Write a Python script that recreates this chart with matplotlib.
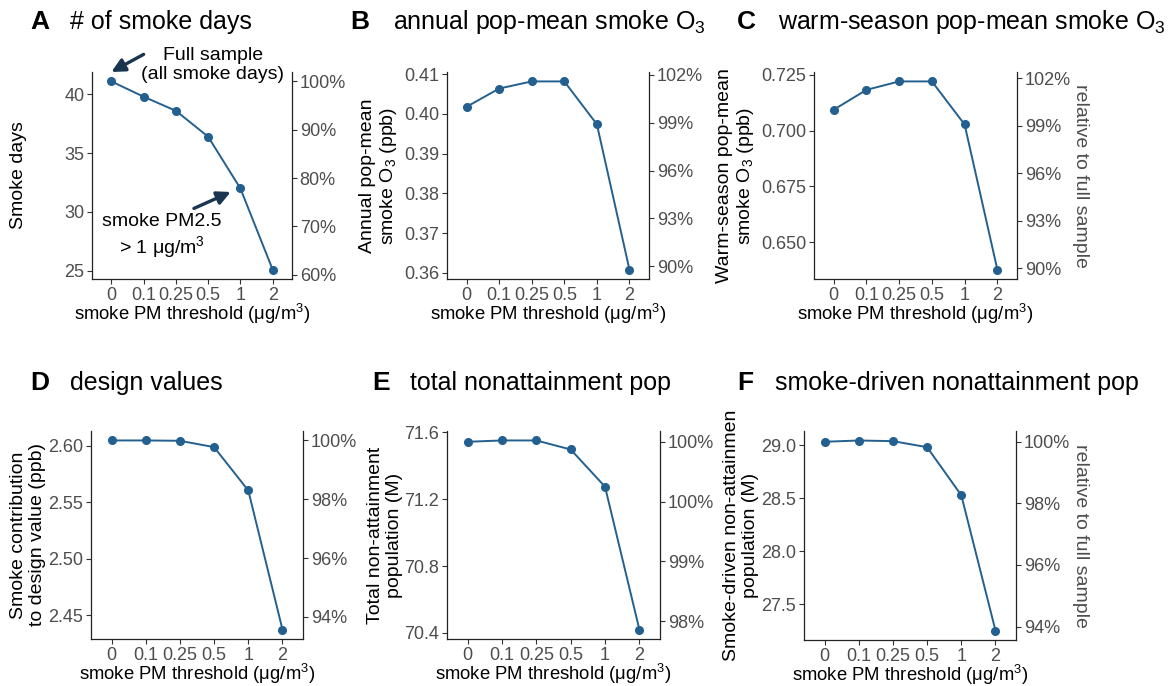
import numpy as np
import matplotlib
matplotlib.use("Agg")
import matplotlib.pyplot as plt

plt.rcParams['font.family'] = ['Liberation Sans', 'DejaVu Sans']
plt.rcParams['mathtext.fontset'] = 'custom'
plt.rcParams['mathtext.rm'] = 'Liberation Sans'
plt.rcParams['mathtext.it'] = 'Liberation Sans:italic'

# thresholds (discrete x)
thresholds = ["0", "0.1", "0.25", "0.5", "1", "2"]

# panel values
smoke_days = [41.1, 39.8, 38.6, 36.4, 32.0, 25.1]
annual_o3 = [0.4018, 0.4064, 0.4082, 0.4082, 0.3974, 0.3608]
warm_o3 = [0.7093, 0.7182, 0.7220, 0.7220, 0.7027, 0.6377]
design_vals = [2.6047, 2.6047, 2.6044, 2.5988, 2.5604, 2.4373]
total_pop = [71.544, 71.552, 71.552, 71.498, 71.275, 70.42]
smoke_pop = [29.032, 29.044, 29.038, 28.981, 28.528, 27.253]

W, H = 1168, 686
LINE = "#23608F"
ARROW = "#1A3550"
GREY = "#4D4D4D"

fig = plt.figure(figsize=(W / 100, H / 100), dpi=100)


def px_axes(x0, x1, y0, y1):
    return fig.add_axes([x0 / W, 1 - y1 / H, (x1 - x0) / W, (y1 - y0) / H])


def panel(box, vals, lticks, lfmt, rticks, letter, title, title_x, title_y, ylab, ylab_x, rlab=None):
    ax = px_axes(*box)
    x = np.arange(len(thresholds))
    ax.plot(x, vals, color=LINE, lw=1.4, marker='o', ms=5.5, clip_on=False, zorder=3)
    lo, hi = min(vals), max(vals)
    pad = (hi - lo) * 0.05
    ax.set_ylim(lo - pad, hi + pad)
    ax.set_xlim(-0.6, len(thresholds) - 0.4)
    ax.set_xticks(x)
    ax.set_xticklabels(thresholds)
    ax.set_yticks(lticks)
    ax.set_yticklabels([lfmt.format(t) for t in lticks])
    for s in ['top', 'right']:
        ax.spines[s].set_visible(False)
    for s in ['left', 'bottom']:
        ax.spines[s].set_color('#222222')
        ax.spines[s].set_linewidth(0.9)
    ax.tick_params(colors='#333333', labelcolor=GREY, labelsize=13, length=3.5, width=0.8, pad=2)
    ax.set_xlabel("smoke PM threshold (μg/m$^3$)", fontsize=13.3, labelpad=-1)

    ax2 = ax.twinx()
    base = vals[0]
    ax2.set_ylim((lo - pad) / base * 100, (hi + pad) / base * 100)
    ax2.set_yticks(rticks)
    ax2.set_yticklabels([f"{round(t)}%" for t in rticks])
    for s in ['top', 'left', 'bottom']:
        ax2.spines[s].set_visible(False)
    ax2.spines['right'].set_color('#222222')
    ax2.spines['right'].set_linewidth(0.9)
    ax2.tick_params(colors='#333333', labelcolor=GREY, labelsize=13, length=3.5, width=0.8, pad=2)

    fig.text(title_x[0] / W, 1 - title_y / H, letter, fontsize=19, fontweight='bold',
             va='center', ha='left')
    fig.text(title_x[1] / W, 1 - title_y / H, title, fontsize=18, va='center', ha='left')
    yc = (box[2] + box[3]) / 2
    fig.text(ylab_x / W, 1 - yc / H, ylab, fontsize=14, rotation=90, ha='center',
             va='center', multialignment='center', linespacing=1.1)
    if rlab:
        fig.text(1080 / W, 1 - yc / H, rlab, fontsize=14, rotation=-90, ha='center',
                 va='center', color=GREY)
    return ax, ax2


axA, _ = panel((92, 292, 72, 279), smoke_days, [25, 30, 35, 40], "{:.0f}", [60, 70, 80, 90, 100],
               "A", "# of smoke days", (30, 70), 22, "Smoke days", 19)
axB, _ = panel((447, 649, 72, 279), annual_o3, [0.36, 0.37, 0.38, 0.39, 0.40, 0.41], "{:.2f}",
               [90, 93, 96, 99, 102], "B", "annual pop-mean smoke O$_3$", (350, 393), 22,
               "Annual pop-mean\nsmoke O$_3$ (ppb)", 379)
axC, _ = panel((814, 1017, 72, 279), warm_o3, [0.650, 0.675, 0.700, 0.725], "{:.3f}",
               [90, 93, 96, 99, 102], "C", "warm-season pop-mean smoke O$_3$", (737, 778), 22,
               "Warm-season pop-mean\nsmoke O$_3$ (ppb)", 736, "relative to full sample")
axD, _ = panel((91, 303, 431, 639), design_vals, [2.45, 2.50, 2.55, 2.60], "{:.2f}",
               [94, 96, 98, 100], "D", "design values", (30, 70), 383,
               "Smoke contribution\nto design value (ppb)", 28)
axE, _ = panel((447, 660, 431, 639), total_pop, [70.4, 70.8, 71.2, 71.6], "{:.1f}",
               [98.5, 99, 99.5, 100], "E", "total nonattainment pop", (372, 410), 383,
               "Total non-attainment\npopulation (M)", 385)
axF, _ = panel((804, 1016, 431, 640), smoke_pop, [27.5, 28.0, 28.5, 29.0], "{:.1f}",
               [94, 96, 98, 100], "F", "smoke-driven nonattainment pop", (737, 775), 383,
               "Smoke-driven non-attainmen\npopulation (M)", 741, "relative to full sample")

# annotations in panel A
axA.annotate("", xy=(0.0, 41.9), xytext=(1.0, 43.4), annotation_clip=False,
             arrowprops=dict(arrowstyle='-|>', color=ARROW, lw=2.4, mutation_scale=20,
                             shrinkA=0, shrinkB=0))
axA.text(3.15, 42.5, "Full sample\n(all smoke days)", fontsize=14, ha='center', va='center',
         linespacing=1.2, clip_on=False)
axA.annotate("", xy=(3.7, 31.7), xytext=(2.56, 30.3), annotation_clip=False,
             arrowprops=dict(arrowstyle='-|>', color=ARROW, lw=2.4, mutation_scale=20,
                             shrinkA=0, shrinkB=0))
axA.text(1.57, 27.9, "smoke PM2.5\n> 1 μg/m$^3$", fontsize=14, ha='center', va='center',
         linespacing=1.2)

fig.savefig("out.png", dpi=100)
